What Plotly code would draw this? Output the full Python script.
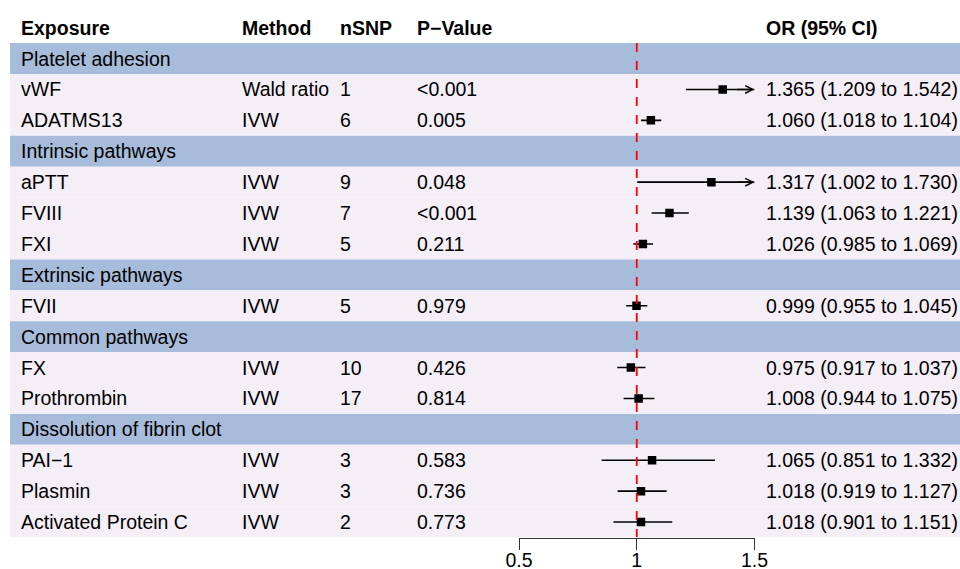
import plotly.graph_objects as go

# ---------------- data ----------------
groups = ["Platelet adhesion", "Intrinsic pathways", "Extrinsic pathways",
          "Common pathways", "Dissolution of fibrin clot"]
group_sizes = [2, 3, 1, 2, 3]
exposures = ["vWF", "ADATMS13", "aPTT", "FVIII", "FXI", "FVII", "FX",
             "Prothrombin", "PAI\u22121", "Plasmin", "Activated Protein C"]
methods = ["Wald ratio", "IVW", "IVW", "IVW", "IVW", "IVW", "IVW", "IVW",
           "IVW", "IVW", "IVW"]
nsnp = [1, 6, 9, 7, 5, 5, 10, 17, 3, 3, 2]
pvals = ["<0.001", "0.005", "0.048", "<0.001", "0.211", "0.979", "0.426",
         "0.814", "0.583", "0.736", "0.773"]
or_est = [1.365, 1.060, 1.317, 1.139, 1.026, 0.999, 0.975, 1.008, 1.065, 1.018, 1.018]
or_lo = [1.209, 1.018, 1.002, 1.063, 0.985, 0.955, 0.917, 0.944, 0.851, 0.919, 0.901]
or_hi = [1.542, 1.104, 1.730, 1.221, 1.069, 1.045, 1.037, 1.075, 1.332, 1.127, 1.151]
headers = ["Exposure", "Method", "nSNP", "P\u2212Value", "OR (95% CI)"]
x_ticks = [0.5, 1, 1.5]
x_ticktext = ["0.5", "1", "1.5"]

# ---------------- layout constants ----------------
W, H = 960, 569
FONT = "Liberation Sans, Arial, sans-serif"
FS = 19.5
BAND = "#A7BCDA"
ROWBG = "#F4EEF6"
XMIN, XMAX = 0.5, 1.5
col_px = [21, 241.5, 340, 417, 765.5]

# build rows
rows = []  # (kind, index)
ei = 0
for g, n in zip(groups, group_sizes):
    rows.append(("group", g))
    for _ in range(n):
        rows.append(("item", ei))
        ei += 1
nrows = len(rows)

fig = go.Figure()

shapes = []
annotations = []

def px(x):
    return x / W

# header
for h, cx in zip(headers, col_px):
    annotations.append(dict(x=px(cx), y=0, xref="paper", yref="y", text="<b>%s</b>" % h,
                            xanchor="left", yanchor="middle", showarrow=False,
                            font=dict(family=FONT, size=FS, color="black"),
                            borderpad=0, borderwidth=0))

item_y = []
for k, (kind, val) in enumerate(rows, start=1):
    shapes.append(dict(type="rect", xref="paper", yref="y", x0=10 / W, x1=1,
                       y0=k - 0.5, y1=k + 0.5, fillcolor=BAND if kind == "group" else ROWBG,
                       line=dict(width=0), layer="below"))
    if kind == "group":
        annotations.append(dict(x=px(col_px[0]), y=k, xref="paper", yref="y", text=val,
                                xanchor="left", yanchor="middle", showarrow=False,
                                font=dict(family=FONT, size=FS, color="black"),
                                borderpad=0, borderwidth=0))
    else:
        i = val
        item_y.append(k)
        texts = [exposures[i], methods[i], str(nsnp[i]), pvals[i],
                 "%.3f (%.3f to %.3f)" % (or_est[i], or_lo[i], or_hi[i])]
        for t, cx in zip(texts, col_px):
            annotations.append(dict(x=px(cx), y=k, xref="paper", yref="y", text=t,
                                    xanchor="left", yanchor="middle", showarrow=False,
                                    font=dict(family=FONT, size=FS, color="black"),
                                    borderpad=0, borderwidth=0))

# CI lines
lx, ly = [], []
for i, k in enumerate(item_y):
    lo = max(or_lo[i], XMIN)
    hi = min(or_hi[i], XMAX)
    lx += [lo, hi, None]
    ly += [k, k, None]
    if or_hi[i] > XMAX:
        annotations.append(dict(x=XMAX, y=k, xref="x", yref="y", ax=XMAX - 0.08, ay=k,
                                axref="x", ayref="y", text="", showarrow=True,
                                arrowhead=5, arrowsize=1.0, arrowwidth=1.5,
                                arrowcolor="black", standoff=0, startstandoff=0))

fig.add_trace(go.Scatter(x=lx, y=ly, mode="lines", line=dict(color="black", width=1.6),
                         hoverinfo="skip", showlegend=False))
fig.add_trace(go.Scatter(x=or_est, y=item_y, mode="markers",
                         marker=dict(symbol="square", size=8.5, color="black",
                                     line=dict(width=0)),
                         showlegend=False))

# reference line at OR = 1
shapes.append(dict(type="line", xref="x", yref="y", x0=1, x1=1, y0=0.5, y1=nrows + 0.5,
                   line=dict(color="#FF0000", width=1.8, dash="dash"), layer="above"))

row_h = 30.9
axis_px = 537.5
top_val = nrows + 0.5 - axis_px / row_h

fig.update_layout(
    width=W, height=H,
    margin=dict(l=0, r=0, t=0, b=0),
    paper_bgcolor="white", plot_bgcolor="rgba(0,0,0,0)",
    shapes=shapes, annotations=annotations,
    showlegend=False,
    xaxis=dict(domain=[519 / W, 754.5 / W], range=[XMIN, XMAX],
               tickvals=x_ticks, ticktext=x_ticktext, ticks="outside", ticklen=11,
               tickwidth=1.4, tickcolor="#333333", showline=True, linecolor="#333333",
               linewidth=1.4, showgrid=False, zeroline=False, automargin=False,
               ticklabelstandoff=-6,
               tickfont=dict(family=FONT, size=FS, color="black"), fixedrange=True),
    yaxis=dict(domain=[(H - axis_px) / H, 1], range=[nrows + 0.5, top_val],
               visible=False, showgrid=False, zeroline=False, automargin=False,
               fixedrange=True),
)

fig.write_html("out.html", config={"displayModeBar": False},
               post_script="document.body.style.margin='0';document.body.style.overflow='hidden';")
